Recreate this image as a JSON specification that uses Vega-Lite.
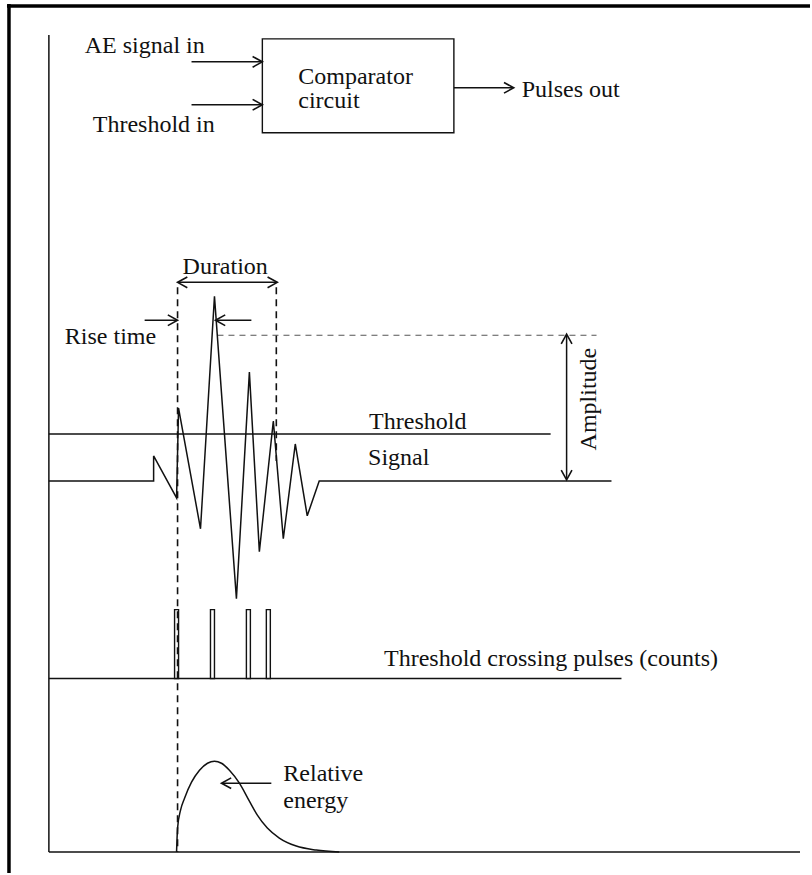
{
  "$schema": "https://vega.github.io/schema/vega-lite/v6.json",
  "width": 812,
  "height": 875,
  "padding": 0,
  "autosize": {"type": "fit", "contains": "padding"},
  "background": "white",
  "config": {"view": {"stroke": null}},
  "datasets": {
    "segs": [
      {"x": 7, "y": 6, "x2": 812, "y2": 6, "kind": "frame"},
      {"x": 9, "y": 4, "x2": 9, "y2": 875, "kind": "frame"},
      {"x": 49, "y": 35, "x2": 49, "y2": 854, "kind": "line"},
      {"x": 49, "y": 854, "x2": 802, "y2": 854, "kind": "line"},
      {"x": 49, "y": 435, "x2": 552, "y2": 435, "kind": "line"},
      {"x": 49, "y": 680, "x2": 623, "y2": 680, "kind": "line"},
      {"x": 192, "y": 62, "x2": 262, "y2": 62, "kind": "line"},
      {"x": 192, "y": 105, "x2": 262, "y2": 105, "kind": "line"},
      {"x": 455, "y": 88, "x2": 514, "y2": 88, "kind": "line"},
      {"x": 179, "y": 283, "x2": 277, "y2": 283, "kind": "line"},
      {"x": 145, "y": 321, "x2": 177, "y2": 321, "kind": "line"},
      {"x": 217, "y": 321, "x2": 252, "y2": 321, "kind": "line"},
      {"x": 568, "y": 336, "x2": 568, "y2": 480, "kind": "line"},
      {"x": 223, "y": 785, "x2": 272, "y2": 785, "kind": "line"},
      {"x": 178, "y": 288, "x2": 178, "y2": 854, "kind": "dash"},
      {"x": 277, "y": 288, "x2": 277, "y2": 462, "kind": "dash"},
      {"x": 218, "y": 336, "x2": 598, "y2": 336, "kind": "dash2"}
    ],
    "signal": [
      {"i": 1, "t": 49, "v": 482},
      {"i": 2, "t": 154, "v": 482},
      {"i": 3, "t": 154, "v": 457},
      {"i": 4, "t": 177, "v": 499},
      {"i": 5, "t": 179, "v": 409},
      {"i": 6, "t": 201, "v": 530},
      {"i": 7, "t": 215, "v": 297},
      {"i": 8, "t": 237, "v": 600},
      {"i": 9, "t": 250, "v": 373},
      {"i": 10, "t": 260, "v": 553},
      {"i": 11, "t": 274, "v": 422},
      {"i": 12, "t": 284, "v": 540},
      {"i": 13, "t": 296, "v": 445},
      {"i": 14, "t": 308, "v": 517},
      {"i": 15, "t": 320, "v": 482},
      {"i": 16, "t": 613, "v": 482}
    ],
    "energy": [
      {"t": 177, "v": 854},
      {"t": 178, "v": 830},
      {"t": 181, "v": 812},
      {"t": 185, "v": 800},
      {"t": 192, "v": 784},
      {"t": 200, "v": 772},
      {"t": 208, "v": 765},
      {"t": 215, "v": 763},
      {"t": 222, "v": 765},
      {"t": 230, "v": 772},
      {"t": 240, "v": 785},
      {"t": 250, "v": 803},
      {"t": 258, "v": 817},
      {"t": 268, "v": 830},
      {"t": 280, "v": 840},
      {"t": 297, "v": 848},
      {"t": 317, "v": 852},
      {"t": 340, "v": 854}
    ],
    "boxes": [
      {"x": 263, "y": 39, "x2": 455, "y2": 133},
      {"x": 175, "y": 611, "x2": 179, "y2": 680},
      {"x": 211, "y": 611, "x2": 215, "y2": 680},
      {"x": 247, "y": 611, "x2": 251, "y2": 680},
      {"x": 267, "y": 611, "x2": 271, "y2": 680}
    ],
    "heads": [
      {"x": 263, "y": 62, "dir": 0},
      {"x": 263, "y": 105, "dir": 0},
      {"x": 515, "y": 88, "dir": 0},
      {"x": 178, "y": 283, "dir": 180},
      {"x": 278, "y": 283, "dir": 0},
      {"x": 178, "y": 321, "dir": 0},
      {"x": 216, "y": 321, "dir": 180},
      {"x": 568, "y": 335, "dir": 270},
      {"x": 568, "y": 481, "dir": 90},
      {"x": 222, "y": 785, "dir": 180}
    ],
    "labels": [
      {"x": 85, "y": 53, "text": "AE signal in"},
      {"x": 93, "y": 132, "text": "Threshold in"},
      {"x": 299, "y": 84, "text": "Comparator"},
      {"x": 299, "y": 108, "text": "circuit"},
      {"x": 523, "y": 97, "text": "Pulses out"},
      {"x": 183, "y": 275, "text": "Duration"},
      {"x": 65, "y": 345, "text": "Rise time"},
      {"x": 370, "y": 430, "text": "Threshold"},
      {"x": 369, "y": 466, "text": "Signal"},
      {"x": 385, "y": 668, "text": "Threshold crossing pulses (counts)"},
      {"x": 284, "y": 783, "text": "Relative"},
      {"x": 284, "y": 810, "text": "energy"}
    ],
    "vlabels": [
      {"x": 590, "y": 400, "text": "Amplitude"}
    ]
  },
  "layer": [
    {
      "data": {"name": "segs"},
      "transform": [{"filter": "datum.kind === 'frame'"}],
      "mark": {"type": "rule", "color": "#000", "strokeWidth": 3.5},
      "encoding": {
        "x": {"field": "x", "type": "quantitative", "scale": {"domain": [0, 812], "nice": false, "zero": false}, "axis": null},
        "y": {"field": "y", "type": "quantitative", "scale": {"domain": [0, 875], "nice": false, "zero": false, "reverse": true}, "axis": null},
        "x2": {"field": "x2"},
        "y2": {"field": "y2"}
      }
    },
    {
      "data": {"name": "segs"},
      "transform": [{"filter": "datum.kind === 'line'"}],
      "mark": {"type": "rule", "color": "#111", "strokeWidth": 1.5},
      "encoding": {
        "x": {"field": "x", "type": "quantitative", "scale": {"domain": [0, 812], "nice": false, "zero": false}, "axis": null},
        "y": {"field": "y", "type": "quantitative", "scale": {"domain": [0, 875], "nice": false, "zero": false, "reverse": true}, "axis": null},
        "x2": {"field": "x2"},
        "y2": {"field": "y2"}
      }
    },
    {
      "data": {"name": "boxes"},
      "mark": {"type": "rect", "fill": "white", "stroke": "#111", "strokeWidth": 1.4},
      "encoding": {
        "x": {"field": "x", "type": "quantitative", "scale": {"domain": [0, 812], "nice": false, "zero": false}, "axis": null},
        "y": {"field": "y", "type": "quantitative", "scale": {"domain": [0, 875], "nice": false, "zero": false, "reverse": true}, "axis": null},
        "x2": {"field": "x2"},
        "y2": {"field": "y2"}
      }
    },
    {
      "data": {"name": "segs"},
      "transform": [{"filter": "datum.kind === 'dash'"}],
      "mark": {"type": "rule", "color": "#111", "strokeWidth": 1.6, "strokeDash": [7, 5]},
      "encoding": {
        "x": {"field": "x", "type": "quantitative", "scale": {"domain": [0, 812], "nice": false, "zero": false}, "axis": null},
        "y": {"field": "y", "type": "quantitative", "scale": {"domain": [0, 875], "nice": false, "zero": false, "reverse": true}, "axis": null},
        "x2": {"field": "x2"},
        "y2": {"field": "y2"}
      }
    },
    {
      "data": {"name": "segs"},
      "transform": [{"filter": "datum.kind === 'dash2'"}],
      "mark": {"type": "rule", "color": "#555", "strokeWidth": 1.2, "strokeDash": [6, 5]},
      "encoding": {
        "x": {"field": "x", "type": "quantitative", "scale": {"domain": [0, 812], "nice": false, "zero": false}, "axis": null},
        "y": {"field": "y", "type": "quantitative", "scale": {"domain": [0, 875], "nice": false, "zero": false, "reverse": true}, "axis": null},
        "x2": {"field": "x2"},
        "y2": {"field": "y2"}
      }
    },
    {
      "data": {"name": "signal"},
      "mark": {"type": "line", "color": "#111", "strokeWidth": 1.5, "strokeJoin": "miter"},
      "encoding": {
        "x": {"field": "t", "type": "quantitative", "scale": {"domain": [0, 812], "nice": false, "zero": false}, "axis": null},
        "y": {"field": "v", "type": "quantitative", "scale": {"domain": [0, 875], "nice": false, "zero": false, "reverse": true}, "axis": null},
        "order": {"field": "i", "type": "quantitative"}
      }
    },
    {
      "data": {"name": "energy"},
      "mark": {"type": "line", "color": "#111", "strokeWidth": 1.5, "interpolate": "monotone"},
      "encoding": {
        "x": {"field": "t", "type": "quantitative", "scale": {"domain": [0, 812], "nice": false, "zero": false}, "axis": null},
        "y": {"field": "v", "type": "quantitative", "scale": {"domain": [0, 875], "nice": false, "zero": false, "reverse": true}, "axis": null}
      }
    },
    {
      "data": {"name": "heads"},
      "mark": {"type": "point", "shape": "M-1,-0.55L0,0L-1,0.55", "size": 380, "filled": false, "stroke": "#111", "strokeWidth": 1.6, "opacity": 1},
      "encoding": {
        "x": {"field": "x", "type": "quantitative", "scale": {"domain": [0, 812], "nice": false, "zero": false}, "axis": null},
        "y": {"field": "y", "type": "quantitative", "scale": {"domain": [0, 875], "nice": false, "zero": false, "reverse": true}, "axis": null},
        "angle": {"field": "dir", "type": "quantitative", "scale": null}
      }
    },
    {
      "data": {"name": "labels"},
      "mark": {"type": "text", "font": "Liberation Serif", "fontSize": 24, "align": "left", "baseline": "alphabetic", "color": "#111"},
      "encoding": {
        "x": {"field": "x", "type": "quantitative", "scale": {"domain": [0, 812], "nice": false, "zero": false}, "axis": null},
        "y": {"field": "y", "type": "quantitative", "scale": {"domain": [0, 875], "nice": false, "zero": false, "reverse": true}, "axis": null},
        "text": {"field": "text", "type": "nominal"}
      }
    },
    {
      "data": {"name": "vlabels"},
      "mark": {"type": "text", "font": "Liberation Serif", "fontSize": 24, "align": "center", "baseline": "middle", "angle": 270, "color": "#111"},
      "encoding": {
        "x": {"field": "x", "type": "quantitative", "scale": {"domain": [0, 812], "nice": false, "zero": false}, "axis": null},
        "y": {"field": "y", "type": "quantitative", "scale": {"domain": [0, 875], "nice": false, "zero": false, "reverse": true}, "axis": null},
        "text": {"field": "text", "type": "nominal"}
      }
    }
  ]
}
